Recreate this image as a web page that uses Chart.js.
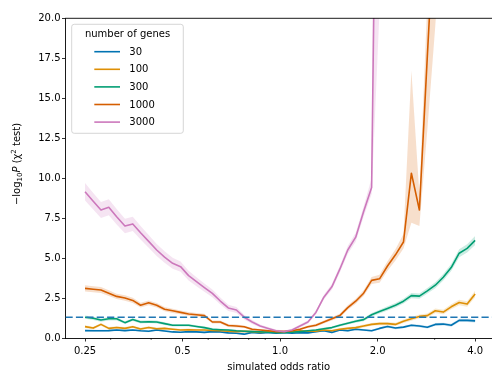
<!DOCTYPE html>
<html>
<head>
<meta charset="utf-8">
<script src="https://cdn.jsdelivr.net/npm/chart.js@4.4.0/dist/chart.umd.min.js"></script>
<style>
  html, body { margin: 0; padding: 0; background: #fff; }
  #wrap { width: 492px; height: 375px; }
</style>
</head>
<body>
<div id="wrap"><canvas id="oddsChart" width="492" height="375"></canvas></div>
<script>
// --- Du lieu (doc tu hinh) ---
const oddsRatios = [0.250, 0.265, 0.280, 0.296, 0.313, 0.332, 0.351, 0.371, 0.393, 0.416,
                    0.440, 0.466, 0.493, 0.522, 0.552, 0.584, 0.618, 0.654, 0.692, 0.733,
                    0.775, 0.820, 0.868, 0.919, 0.972, 1.029, 1.088, 1.152, 1.219, 1.290,
                    1.365, 1.445, 1.529, 1.618, 1.712, 1.811, 1.917, 2.028, 2.146, 2.271,
                    2.404, 2.543, 2.692, 2.848, 3.014, 3.190, 3.375, 3.572, 3.780, 4.000];

const geneLabels = ['30', '100', '300', '1000', '3000'];
const lineColors = ['#0173b2', '#de8f05', '#029e73', '#d55e00', '#cc78bc'];
const bandColors = ['rgba(1,115,178,0.2)', 'rgba(222,143,5,0.2)', 'rgba(2,158,115,0.2)',
                    'rgba(213,94,0,0.2)', 'rgba(204,120,188,0.2)'];

const logP30 = [0.46, 0.45, 0.45, 0.46, 0.50, 0.46, 0.50, 0.45, 0.42, 0.50,
                0.44, 0.38, 0.36, 0.40, 0.38, 0.35, 0.40, 0.38, 0.32, 0.30,
                0.24, 0.35, 0.30, 0.35, 0.30, 0.35, 0.30, 0.33, 0.32, 0.40,
                0.45, 0.35, 0.50, 0.45, 0.55, 0.50, 0.45, 0.60, 0.72, 0.62,
                0.68, 0.80, 0.75, 0.67, 0.85, 0.87, 0.80, 1.10, 1.10, 1.07];
const logP100 = [0.71, 0.62, 0.85, 0.60, 0.66, 0.60, 0.70, 0.56, 0.66, 0.58,
                 0.60, 0.55, 0.50, 0.52, 0.50, 0.50, 0.47, 0.45, 0.42, 0.40,
                 0.42, 0.40, 0.35, 0.38, 0.40, 0.40, 0.38, 0.45, 0.42, 0.42,
                 0.50, 0.45, 0.55, 0.60, 0.65, 0.75, 0.85, 0.90, 0.90, 0.85,
                 1.05, 1.20, 1.35, 1.40, 1.70, 1.62, 1.95, 2.22, 2.12, 2.75];
const logP300 = [1.30, 1.23, 1.12, 1.20, 1.20, 0.96, 1.15, 1.00, 1.02, 1.00,
                 0.90, 0.80, 0.80, 0.80, 0.72, 0.65, 0.55, 0.52, 0.50, 0.45,
                 0.42, 0.40, 0.38, 0.36, 0.33, 0.33, 0.36, 0.40, 0.45, 0.50,
                 0.58, 0.65, 0.80, 0.92, 1.05, 1.15, 1.45, 1.65, 1.85, 2.05,
                 2.30, 2.65, 2.62, 2.95, 3.30, 3.80, 4.40, 5.30, 5.60, 6.10];
const logP1000 = [3.10, 3.05, 3.00, 2.80, 2.60, 2.50, 2.35, 2.05, 2.20, 2.05,
                  1.80, 1.70, 1.60, 1.50, 1.45, 1.40, 1.00, 1.00, 0.78, 0.75,
                  0.70, 0.55, 0.50, 0.45, 0.40, 0.40, 0.45, 0.55, 0.70, 0.80,
                  1.00, 1.20, 1.40, 1.90, 2.30, 2.80, 3.60, 3.70, 4.50, 5.20,
                  6.00, 10.3, 8.00, 17.6, 27.0, 37.0, 47.0, 57.0, 67.0, 77.0];
const logP3000 = [9.14, 8.55, 8.00, 8.17, 7.58, 7.00, 7.13, 6.58, 6.04, 5.50,
                  5.06, 4.67, 4.46, 3.90, 3.52, 3.15, 2.79, 2.31, 1.88, 1.75,
                  1.30, 1.00, 0.75, 0.60, 0.45, 0.40, 0.50, 0.75, 1.00, 1.60,
                  2.55, 3.20, 4.30, 5.50, 6.30, 7.90, 9.40, 50.0, 70.0, 90.0,
                  110, 130, 150, 170, 190, 210, 230, 250, 270, 290];

// --- Do rong dai tin cay (duoi / tren) ---
const err30 = [0.06, 0.06, 0.06, 0.06, 0.06, 0.06, 0.06, 0.06, 0.06, 0.06,
               0.06, 0.05, 0.05, 0.05, 0.05, 0.05, 0.05, 0.05, 0.05, 0.05,
               0.05, 0.05, 0.05, 0.05, 0.05, 0.05, 0.05, 0.05, 0.05, 0.05,
               0.05, 0.05, 0.06, 0.06, 0.06, 0.06, 0.06, 0.07, 0.07, 0.07,
               0.07, 0.08, 0.08, 0.08, 0.08, 0.09, 0.09, 0.10, 0.10, 0.10];
const err100 = [0.09, 0.09, 0.09, 0.08, 0.08, 0.08, 0.08, 0.08, 0.08, 0.08,
                0.07, 0.07, 0.07, 0.07, 0.07, 0.06, 0.06, 0.06, 0.06, 0.06,
                0.06, 0.06, 0.06, 0.06, 0.06, 0.06, 0.06, 0.06, 0.06, 0.07,
                0.07, 0.07, 0.07, 0.08, 0.08, 0.09, 0.09, 0.10, 0.10, 0.10,
                0.11, 0.12, 0.12, 0.13, 0.14, 0.14, 0.16, 0.17, 0.17, 0.20];
const err300 = [0.10, 0.10, 0.10, 0.10, 0.10, 0.09, 0.09, 0.09, 0.09, 0.09,
                0.08, 0.08, 0.08, 0.08, 0.07, 0.07, 0.07, 0.06, 0.06, 0.06,
                0.06, 0.06, 0.06, 0.06, 0.06, 0.06, 0.06, 0.06, 0.06, 0.06,
                0.07, 0.07, 0.08, 0.08, 0.09, 0.10, 0.11, 0.12, 0.13, 0.14,
                0.15, 0.16, 0.16, 0.17, 0.19, 0.20, 0.22, 0.25, 0.26, 0.28];
const err1000Lo = [0.20, 0.19, 0.19, 0.18, 0.17, 0.17, 0.16, 0.15, 0.15, 0.14,
                   0.13, 0.13, 0.12, 0.12, 0.11, 0.11, 0.10, 0.10, 0.09, 0.09,
                   0.08, 0.08, 0.07, 0.07, 0.06, 0.06, 0.07, 0.07, 0.08, 0.09,
                   0.10, 0.11, 0.12, 0.14, 0.16, 0.18, 0.22, 0.25, 0.30, 0.35,
                   0.40, 3.10, 1.00, 4.60, 7.50, 10.0, 10.0, 10.0, 10.0, 10.0];
const err1000Hi = [0.20, 0.19, 0.19, 0.18, 0.17, 0.17, 0.16, 0.15, 0.15, 0.14,
                   0.13, 0.13, 0.12, 0.12, 0.11, 0.11, 0.10, 0.10, 0.09, 0.09,
                   0.08, 0.08, 0.07, 0.07, 0.06, 0.06, 0.07, 0.07, 0.08, 0.09,
                   0.10, 0.11, 0.12, 0.14, 0.16, 0.18, 0.22, 0.25, 0.30, 0.35,
                   0.50, 6.40, 1.00, 3.40, 5.00, 10.0, 10.0, 10.0, 10.0, 10.0];
const err3000Lo = [0.55, 0.52, 0.50, 0.50, 0.48, 0.45, 0.45, 0.42, 0.40, 0.38,
                   0.36, 0.34, 0.32, 0.30, 0.28, 0.26, 0.24, 0.22, 0.20, 0.18,
                   0.15, 0.13, 0.10, 0.09, 0.08, 0.07, 0.08, 0.09, 0.10, 0.12,
                   0.15, 0.18, 0.22, 0.25, 0.28, 0.32, 0.40, 29.5, 30.0, 30.0,
                   30.0, 30.0, 30.0, 30.0, 30.0, 30.0, 30.0, 30.0, 30.0, 30.0];
const err3000Hi = [0.55, 0.52, 0.50, 0.50, 0.48, 0.45, 0.45, 0.42, 0.40, 0.38,
                   0.36, 0.34, 0.32, 0.30, 0.28, 0.26, 0.24, 0.22, 0.20, 0.18,
                   0.15, 0.13, 0.10, 0.09, 0.08, 0.07, 0.08, 0.09, 0.10, 0.12,
                   0.15, 0.18, 0.22, 0.25, 0.28, 0.32, 0.60, 30.0, 30.0, 30.0,
                   30.0, 30.0, 30.0, 30.0, 30.0, 30.0, 30.0, 30.0, 30.0, 30.0];

const seriesValues = [logP30, logP100, logP300, logP1000, logP3000];
const seriesErrLo = [err30, err100, err300, err1000Lo, err3000Lo];
const seriesErrHi = [err30, err100, err300, err1000Hi, err3000Hi];

// --- Truc ---
const xMin = 0.2176;
const xMax = 4.51;
const xTickValues = [0.25, 0.5, 1.0, 2.0, 4.0];
const xTickLabels = ['0.25', '0.5', '1.0', '2.0', '4.0'];
const xMinorTicks = [0.3, 0.4, 0.6, 0.7, 0.8, 0.9, 3.0];
const yTickValues = [0, 2.5, 5, 7.5, 10, 12.5, 15, 17.5, 20];
const yTickLabels = ['0.0', '2.5', '5.0', '7.5', '10.0', '12.5', '15.0', '17.5', '20.0'];
const pThreshold = 1.301; // -log10(0.05)

const FONT = "'DejaVu Sans', sans-serif";

function toPoints(values) {
    return oddsRatios.map((x, i) => ({ x: x, y: values[i] }));
}

// --- Datasets: duong chinh truoc (ve tren cung), dai tin cay sau ---
const datasets = [];
seriesValues.forEach((vals, k) => {
    datasets.push({
        label: geneLabels[k],
        data: toPoints(vals),
        borderColor: lineColors[k],
        borderWidth: 1.6,
        borderJoinStyle: 'round',
        pointRadius: 0,
        tension: 0,
        fill: false,
        order: 10 - k
    });
});
seriesValues.forEach((vals, k) => {
    const lo = vals.map((v, i) => v - seriesErrLo[k][i]);
    const hi = vals.map((v, i) => v + seriesErrHi[k][i]);
    datasets.push({
        label: 'lo' + k,
        data: toPoints(lo),
        borderWidth: 0,
        pointRadius: 0,
        tension: 0,
        fill: false,
        order: 20
    });
    datasets.push({
        label: 'hi' + k,
        data: toPoints(hi),
        borderWidth: 0,
        pointRadius: 0,
        tension: 0,
        backgroundColor: bandColors[k],
        fill: '-1',
        order: 20
    });
});

// --- Plugin: duong nguong, vien tren, vach phu, nhan truc y, chu thich ---
const extrasPlugin = {
    id: 'extras',
    afterDatasetsDraw(chart) {
        const ctx = chart.ctx;
        const a = chart.chartArea;
        const y = chart.scales.y.getPixelForValue(pThreshold);
        ctx.save();
        ctx.beginPath();
        ctx.rect(a.left, a.top, a.right - a.left, a.bottom - a.top);
        ctx.clip();
        ctx.strokeStyle = '#1f77b4';
        ctx.lineWidth = 1.6;
        ctx.setLineDash([7.2, 3.2]);
        ctx.beginPath();
        ctx.moveTo(a.left, y);
        ctx.lineTo(a.right, y);
        ctx.stroke();
        ctx.restore();
    },
    afterDraw(chart) {
        const ctx = chart.ctx;
        const a = chart.chartArea;
        const xs = chart.scales.x;

        ctx.save();
        // vien tren
        ctx.strokeStyle = '#000';
        ctx.lineWidth = 0.9;
        ctx.beginPath();
        ctx.moveTo(a.left - 0.4, a.top + 0.3);
        ctx.lineTo(a.right, a.top + 0.3);
        ctx.stroke();

        // vach phu truc x
        ctx.lineWidth = 0.6;
        xMinorTicks.forEach(v => {
            const px = xs.getPixelForValue(v);
            ctx.beginPath();
            ctx.moveTo(px, a.bottom);
            ctx.lineTo(px, a.bottom + 2);
            ctx.stroke();
        });

        // nhan truc y: −log10 P (χ2 test)
        ctx.fillStyle = '#000';
        ctx.textBaseline = 'alphabetic';
        const parts = [
            { t: '\u2212log', f: '10px ' + FONT, dy: 0 },
            { t: '10', f: '7px ' + FONT, dy: 2.2 },
            { t: 'P', f: 'italic 10px ' + FONT, dy: 0 },
            { t: ' (\u03c7', f: '10px ' + FONT, dy: 0 },
            { t: '2', f: '7px ' + FONT, dy: -4 },
            { t: ' test)', f: '10px ' + FONT, dy: 0 }
        ];
        let total = 0;
        parts.forEach(p => { ctx.font = p.f; p.w = ctx.measureText(p.t).width; total += p.w; });
        ctx.translate(20, 164);
        ctx.rotate(-Math.PI / 2);
        let cx = -total / 2;
        parts.forEach(p => {
            ctx.font = p.f;
            ctx.fillText(p.t, cx, p.dy);
            cx += p.w;
        });
        ctx.setTransform(1, 0, 0, 1, 0, 0);

        // chu thich
        const x0 = a.left + 6.2, y0 = a.top + 6.3, w = 111.6, h = 109;
        ctx.beginPath();
        if (ctx.roundRect) ctx.roundRect(x0, y0, w, h, 2.5); else ctx.rect(x0, y0, w, h);
        ctx.fillStyle = 'rgba(255,255,255,0.8)';
        ctx.fill();
        ctx.strokeStyle = '#cccccc';
        ctx.lineWidth = 0.8;
        ctx.stroke();

        ctx.fillStyle = '#000';
        ctx.font = '10px ' + FONT;
        ctx.textBaseline = 'middle';
        ctx.textAlign = 'center';
        ctx.fillText('number of genes', x0 + w / 2, y0 + 10.5);
        ctx.textAlign = 'left';
        geneLabels.forEach((lab, k) => {
            const yy = y0 + 27.4 + k * 17.6;
            ctx.strokeStyle = lineColors[k];
            ctx.lineWidth = 1.6;
            ctx.beginPath();
            ctx.moveTo(x0 + 22.6, yy);
            ctx.lineTo(x0 + 48.3, yy);
            ctx.stroke();
            ctx.fillText(lab, x0 + 57.6, yy + 0.5);
        });
        ctx.restore();
    }
};

new Chart(document.getElementById('oddsChart'), {
    type: 'line',
    data: { datasets: datasets },
    options: {
        responsive: false,
        animation: false,
        layout: { padding: { top: 18, right: 0, bottom: 0, left: 0 } },
        plugins: {
            legend: { display: false },
            tooltip: { enabled: false }
        },
        scales: {
            x: {
                type: 'logarithmic',
                min: xMin,
                max: xMax,
                afterBuildTicks: s => { s.ticks = xTickValues.map(v => ({ value: v })); },
                afterFit: s => { s.height = 37; },
                ticks: {
                    autoSkip: false,
                    maxRotation: 0,
                    padding: 3.5,
                    color: '#000',
                    font: { family: FONT, size: 10 },
                    callback: v => {
                        const k = xTickValues.indexOf(v);
                        return k >= 0 ? xTickLabels[k] : '';
                    }
                },
                grid: { display: true, drawOnChartArea: false, drawTicks: true, tickLength: 3.5, tickWidth: 0.8, tickColor: '#000' },
                border: { display: true, color: '#000', width: 0.9 },
                title: {
                    display: true,
                    text: 'simulated odds ratio',
                    color: '#000',
                    font: { family: FONT, size: 10 },
                    padding: { top: 0, bottom: 2 }
                }
            },
            y: {
                type: 'linear',
                min: 0,
                max: 20,
                afterBuildTicks: s => { s.ticks = yTickValues.map(v => ({ value: v })); },
                afterFit: s => { s.width = 65.5; },
                ticks: {
                    padding: 1.5,
                    color: '#000',
                    font: { family: FONT, size: 10 },
                    callback: (v, i) => yTickLabels[i]
                },
                grid: { display: true, drawOnChartArea: false, drawTicks: true, tickLength: 3.5, tickWidth: 0.8, tickColor: '#000' },
                border: { display: true, color: '#000', width: 0.9 }
            }
        }
    },
    plugins: [extrasPlugin]
});
</script>
</body>
</html>
